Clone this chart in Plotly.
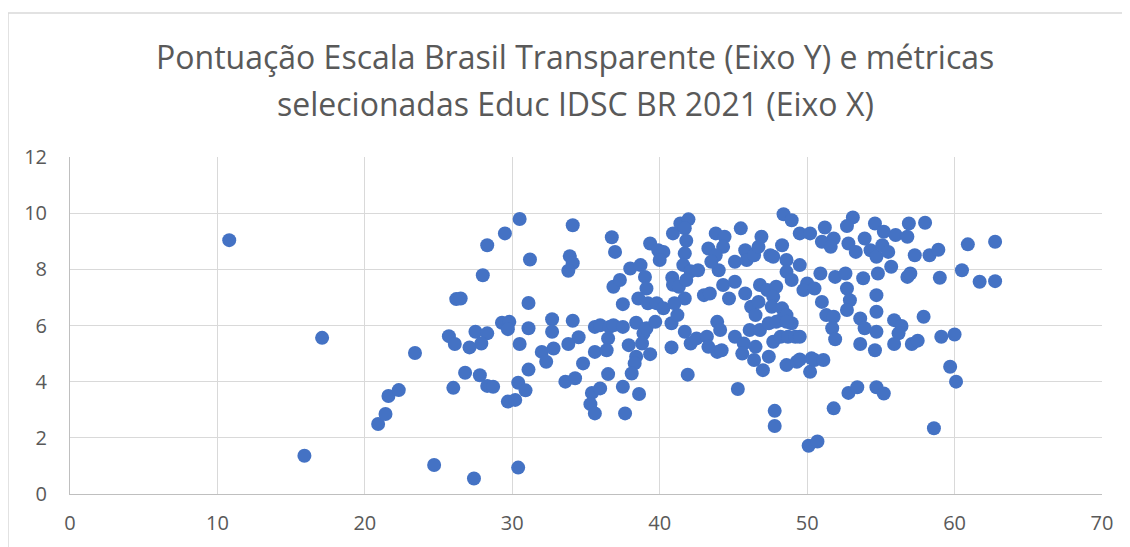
import plotly.graph_objects as go

x_vals = [
    10.8, 17.1, 15.9, 23.4, 20.9, 21.4, 21.6, 22.3, 24.7, 27.4,
    30.4, 30.5, 29.5, 28.3, 28.0, 26.2, 26.5, 29.3, 29.8, 29.7,
    31.1, 31.1, 31.2, 25.7, 26.1, 27.5, 28.3, 27.9, 27.1, 30.5,
    31.1, 26.8, 27.8, 28.3, 28.7, 26.0, 30.4, 30.9, 29.7, 30.2,
    34.1, 33.9, 34.1, 33.8, 36.75, 36.97, 39.35, 39.9, 40.25, 40.0,
    40.9, 41.4, 41.95, 41.7, 41.8, 41.7, 41.6, 42.1, 42.6, 40.85,
    40.9, 41.3, 41.8, 41.7, 38.0, 38.7, 39.0, 39.1, 38.55, 39.2,
    39.8, 40.25, 36.86, 37.3, 37.5, 32.7, 32.7, 34.1, 32.0, 32.8,
    32.3, 34.5, 33.8, 34.8, 35.6, 35.6, 35.96, 36.6, 36.86, 37.5,
    38.4, 36.5, 36.4, 37.9, 38.9, 39.1, 38.8, 39.35, 38.4, 38.3,
    38.1, 36.5, 39.7, 40.8, 41.2, 41.7, 42.1, 40.8, 41.9, 33.6,
    34.26, 35.4, 35.96, 35.3, 35.6, 37.5, 37.65, 38.6, 48.4, 48.95,
    43.8, 44.4, 44.3, 43.3, 43.8, 44.0, 43.5, 45.5, 45.8, 45.1,
    45.9, 46.4, 46.9, 46.7, 47.5, 47.7, 48.3, 48.6, 49.5, 48.6,
    48.95, 50.0, 49.75, 46.8, 47.3, 47.9, 47.7, 44.3, 45.1, 44.7,
    45.8, 43.0, 43.4, 41.0, 46.2, 46.5, 46.7, 47.6, 48.3, 48.2,
    48.95, 48.6, 43.9, 44.1, 42.5, 43.2, 43.3, 43.9, 44.2, 45.1,
    45.7, 46.5, 45.6, 46.4, 46.1, 46.8, 47.4, 47.0, 47.4, 47.9,
    48.6, 47.7, 48.2, 48.7, 49.2, 48.6, 49.3, 50.2, 50.5, 45.3,
    47.8, 47.8, 50.1, 50.7, 53.1, 52.7, 54.6, 55.2, 56.9, 58.0,
    49.5, 50.2, 51.2, 51.8, 51.0, 51.6, 52.8, 53.3, 53.9, 54.3,
    54.7, 55.1, 55.5, 56.0, 56.8, 57.3, 58.3, 58.9, 60.9, 62.75,
    60.5, 61.7, 62.75, 59.0, 50.9, 51.9, 52.6, 53.8, 54.8, 55.7,
    56.8, 57.0, 50.5, 51.0, 52.7, 52.9, 52.7, 54.7, 54.7, 51.3,
    51.8, 51.7, 51.9, 53.6, 53.9, 54.7, 53.6, 54.6, 55.9, 56.4,
    56.2, 55.9, 57.1, 57.5, 57.9, 59.1, 60.0, 49.5, 49.5, 50.3,
    51.1, 59.7, 60.1, 52.8, 53.4, 54.7, 55.2, 51.8, 58.6,
]

y_vals = [
    9.04, 5.56, 1.36, 5.02, 2.49, 2.85, 3.49, 3.70, 1.03, 0.55,
    0.94, 9.79, 9.28, 8.86, 7.79, 6.94, 6.96, 6.10, 6.13, 5.87,
    5.90, 6.80, 8.35, 5.62, 5.34, 5.78, 5.72, 5.36, 5.22, 5.34,
    4.43, 4.32, 4.23, 3.85, 3.82, 3.78, 3.96, 3.69, 3.29, 3.35,
    9.57, 8.47, 8.22, 7.95, 9.14, 8.62, 8.92, 8.68, 8.62, 8.33,
    9.28, 9.63, 9.78, 9.46, 9.02, 8.57, 8.15, 7.93, 7.97, 7.70,
    7.45, 7.38, 7.62, 6.96, 8.03, 8.15, 7.73, 7.32, 6.96, 6.79,
    6.79, 6.61, 7.38, 7.62, 6.76, 6.22, 5.78, 6.17, 5.06, 5.18,
    4.71, 5.58, 5.34, 4.65, 5.06, 5.95, 6.01, 5.95, 6.01, 5.95,
    6.10, 5.54, 5.12, 5.30, 5.72, 5.90, 5.36, 4.98, 4.89, 4.65,
    4.29, 4.27, 6.13, 6.08, 6.37, 5.78, 5.36, 5.22, 4.25, 4.00,
    4.12, 3.60, 3.76, 3.20, 2.87, 3.82, 2.87, 3.56, 9.96, 9.75,
    9.28, 9.16, 8.80, 8.74, 8.50, 7.97, 8.27, 9.46, 8.68, 8.27,
    8.33, 8.50, 9.16, 8.80, 8.50, 8.45, 8.86, 8.33, 8.15, 7.91,
    7.62, 7.50, 7.26, 7.44, 7.26, 7.38, 7.02, 7.44, 7.56, 6.96,
    7.14, 7.08, 7.14, 6.79, 6.67, 6.37, 6.84, 6.67, 6.61, 6.19,
    6.08, 6.37, 6.13, 5.84, 5.54, 5.60, 5.24, 5.06, 5.12, 5.60,
    5.36, 5.24, 5.00, 4.77, 5.84, 5.84, 4.89, 4.41, 6.08, 6.13,
    6.13, 5.42, 5.60, 5.60, 5.60, 4.59, 4.71, 4.35, 4.77, 3.74,
    2.96, 2.42, 1.72, 1.87, 9.85, 9.54, 9.63, 9.34, 9.63, 9.66,
    9.28, 9.28, 9.49, 9.10, 8.98, 8.80, 8.92, 8.62, 9.10, 8.68,
    8.45, 8.86, 8.62, 9.22, 9.16, 8.50, 8.50, 8.70, 8.89, 8.98,
    7.97, 7.56, 7.58, 7.70, 7.85, 7.73, 7.85, 7.68, 7.85, 8.09,
    7.73, 7.85, 7.32, 6.84, 7.32, 6.90, 6.55, 7.08, 6.49, 6.37,
    6.31, 5.90, 5.51, 6.25, 5.90, 5.78, 5.34, 5.12, 6.19, 5.98,
    5.72, 5.34, 5.34, 5.46, 6.31, 5.60, 5.68, 5.60, 4.79, 4.83,
    4.77, 4.53, 4.00, 3.60, 3.80, 3.80, 3.58, 3.05, 2.34,
]

title_line1 = "Pontuação Escala Brasil Transparente (Eixo Y) e métricas"
title_line2 = "selecionadas Educ IDSC BR 2021 (Eixo X)"
x_ticks = [0, 10, 20, 30, 40, 50, 60, 70]
y_ticks = [0, 2, 4, 6, 8, 10, 12]

# page body adds an 8px offset in the browser; compensate
OFF = 8
W, H = 1130, 547
L, T = 70 - OFF, 157 - OFF
PW, PH = 1032, 337
R = W - L - PW
B = H - T - PH

def px_to_paper_x(px):
    return (px - OFF - L) / PW

def px_to_paper_y(py):
    return (T + PH - (py - OFF)) / PH

TEXT = "#595959"
GRID = "#d9d9d9"
FONT = "'Open Sans', Lato, sans-serif"

fig = go.Figure()
fig.add_trace(go.Scatter(
    x=x_vals, y=y_vals, mode="markers",
    marker=dict(size=14, color="#4472C4", line=dict(width=0)),
    hoverinfo="x+y", showlegend=False,
))

fig.update_layout(
    width=W, height=H,
    margin=dict(l=L, r=R, t=T, b=B),
    paper_bgcolor="white", plot_bgcolor="white",
    font=dict(family=FONT, color=TEXT, size=20),
    xaxis=dict(range=[0, 70], tickvals=x_ticks, showgrid=True, gridcolor=GRID,
               gridwidth=1, zeroline=False, showline=True, linecolor="#bfbfbf",
               linewidth=1, ticks="", ticklabelstandoff=11,
               tickfont=dict(size=20, color=TEXT)),
    yaxis=dict(range=[0, 12], tickvals=y_ticks, showgrid=True, gridcolor=GRID,
               gridwidth=1, zeroline=False, showline=True, linecolor="#bfbfbf",
               linewidth=1, ticks="", ticklabelstandoff=18,
               tickfont=dict(size=20, color=TEXT)),
)

for txt, ypx in [(title_line1, 57), (title_line2, 103)]:
    fig.add_annotation(
        text=txt, xref="paper", yref="paper",
        x=px_to_paper_x(575), y=px_to_paper_y(ypx),
        xanchor="center", yanchor="middle", showarrow=False,
        font=dict(family=FONT, size=32, color=TEXT),
    )

fig.add_shape(type="line", xref="paper", yref="paper",
              x0=px_to_paper_x(8), x1=px_to_paper_x(1140),
              y0=px_to_paper_y(13), y1=px_to_paper_y(13),
              line=dict(color=GRID, width=1.5))
fig.add_shape(type="line", xref="paper", yref="paper",
              x0=px_to_paper_x(8), x1=px_to_paper_x(8),
              y0=px_to_paper_y(13), y1=px_to_paper_y(560),
              line=dict(color=GRID, width=1.5))

fig.write_html("out.html")
